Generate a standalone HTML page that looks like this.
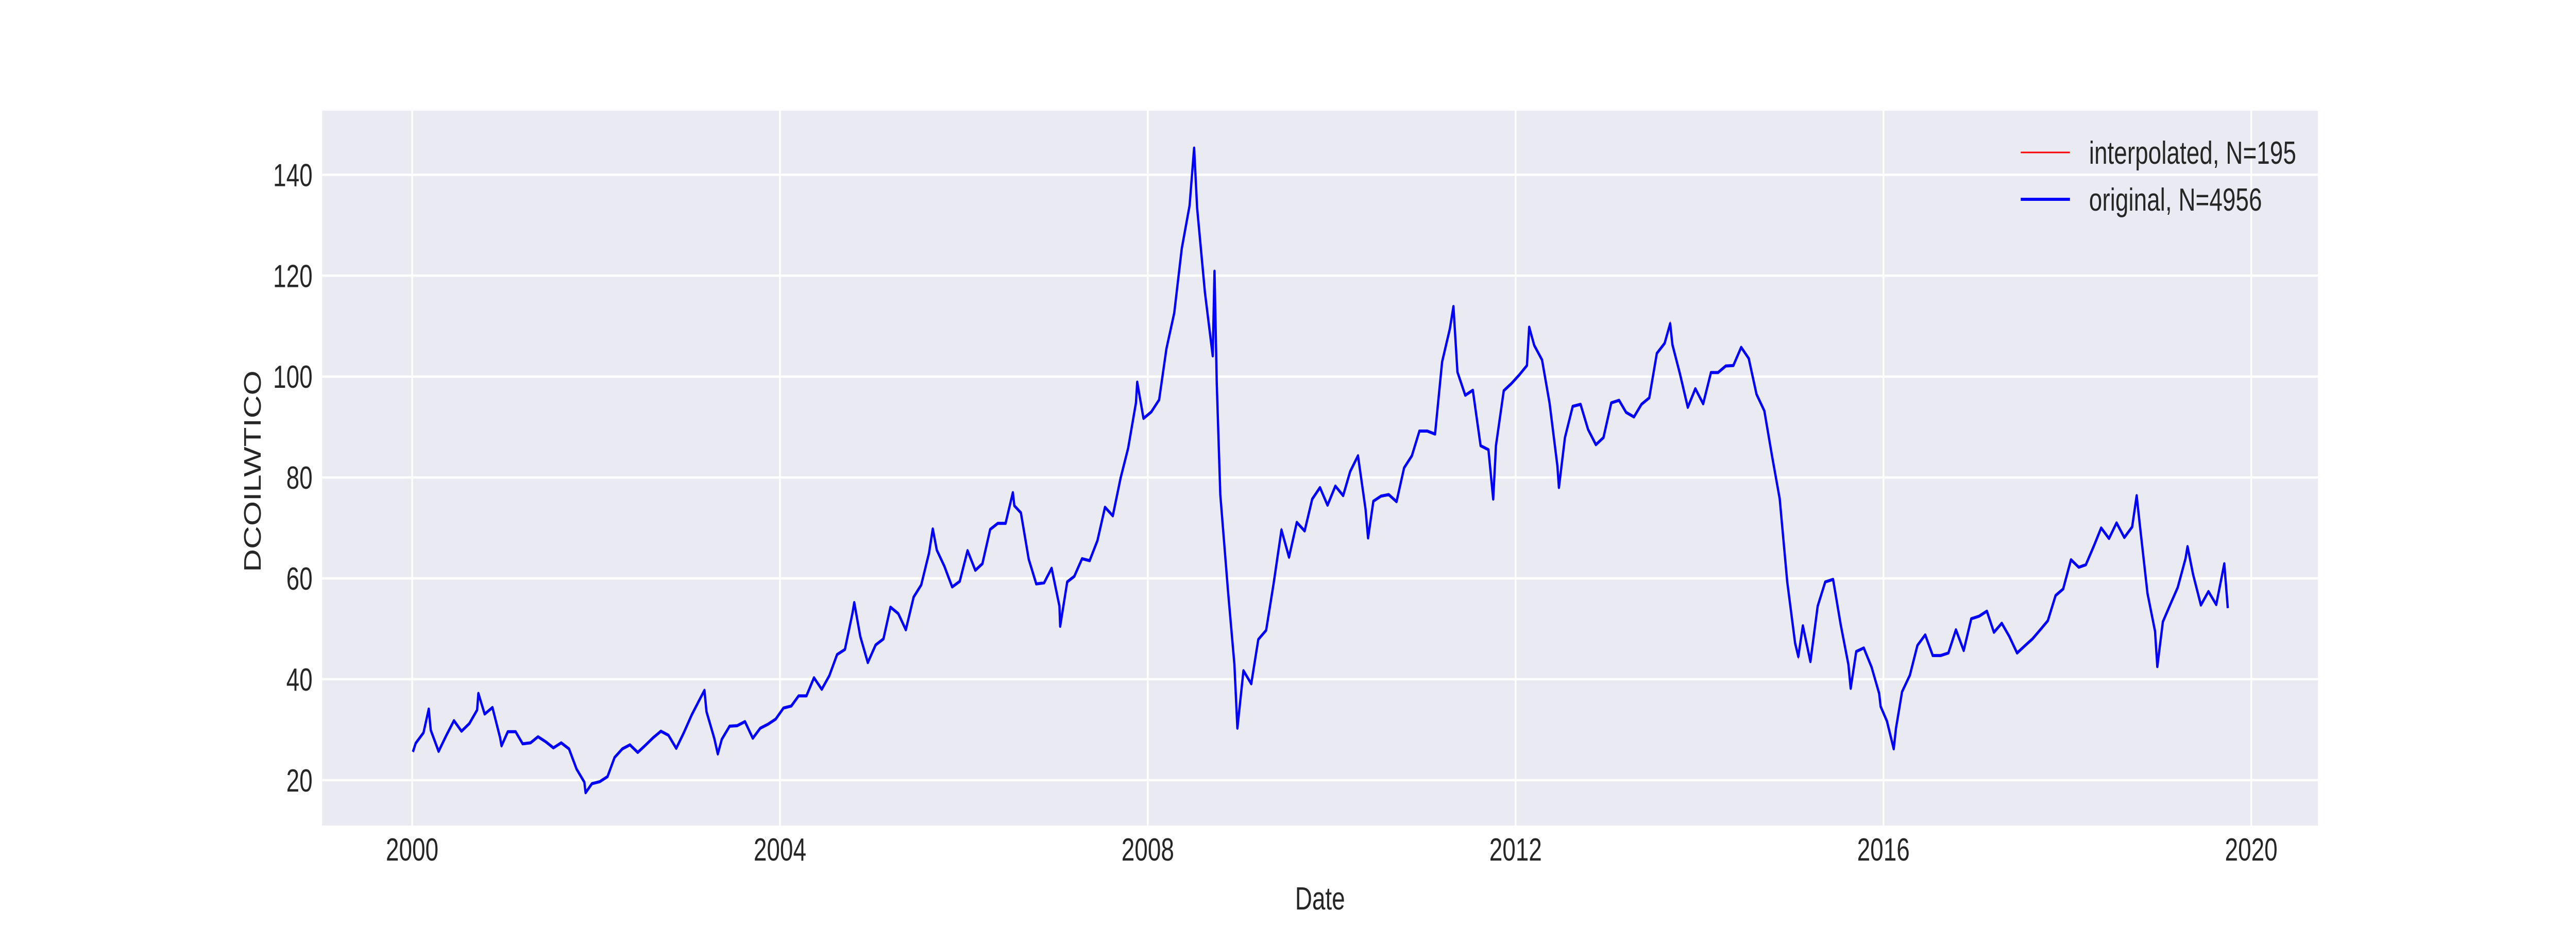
<!DOCTYPE html>
<html><head><meta charset="utf-8">
<style>
html,body{margin:0;padding:0;background:#fff;overflow:hidden;width:100%;height:100%;}
svg{display:block;width:100vw;height:100vh;font-family:"Liberation Sans",Arial,sans-serif;}
</style></head>
<body>
<svg id="chart" viewBox="0 0 6750 1800" preserveAspectRatio="none" xmlns="http://www.w3.org/2000/svg">
<rect x="0" y="0" width="6750" height="1800" fill="#ffffff"/>
<rect x="844" y="215" width="5230" height="1388" fill="#EAEAF2"/>
<g id="grid"></g>
<g id="ticks"></g>
<g id="series"></g>
<text x="3459" y="1766" font-size="62" fill="#262626" text-anchor="middle">Date</text>
<text transform="translate(683,915) rotate(-90)" font-size="62" fill="#262626" text-anchor="middle">DCOILWTICO</text>
<g>
  <line x1="5295" y1="296" x2="5424" y2="296" stroke="#ff0000" stroke-width="3"/>
  <text x="5474" y="318" font-size="62" fill="#262626">interpolated, N=195</text>
  <line x1="5295" y1="387" x2="5424" y2="387" stroke="#0000ff" stroke-width="6"/>
  <text x="5474" y="409" font-size="62" fill="#262626">original, N=4956</text>
</g>
</svg>
<script>
const xTickLabels = ["2000","2004","2008","2012","2016","2020"];
const yTickValues = [20,40,60,80,100,120,140];
const dates = [
"2000-01-04","2000-01-15","2000-02-15","2000-03-07","2000-03-15","2000-04-15","2000-05-15","2000-06-15","2000-07-15","2000-08-15","2000-09-15","2000-09-20","2000-10-15","2000-11-15","2000-12-15","2000-12-21",
"2001-01-15","2001-02-15","2001-03-15","2001-04-15","2001-05-15","2001-06-15","2001-07-15","2001-08-15","2001-09-15","2001-10-15","2001-11-15","2001-11-20","2001-12-15",
"2002-01-15","2002-02-15","2002-03-15","2002-04-15","2002-05-15","2002-06-15","2002-07-15","2002-08-15","2002-09-15","2002-10-15","2002-11-15","2002-12-15",
"2003-01-15","2003-02-15","2003-03-07","2003-03-15","2003-04-15","2003-04-29","2003-05-15","2003-06-15","2003-07-15","2003-08-15","2003-09-15","2003-10-15","2003-11-15","2003-12-15",
"2004-01-15","2004-02-15","2004-03-15","2004-04-15","2004-05-15","2004-06-15","2004-07-15","2004-08-15","2004-09-15","2004-10-15","2004-10-22","2004-11-15","2004-12-15",
"2005-01-15","2005-02-15","2005-03-15","2005-04-15","2005-05-15","2005-06-15","2005-07-15","2005-08-15","2005-08-30","2005-09-15","2005-10-15","2005-11-15","2005-12-15",
"2006-01-15","2006-02-15","2006-03-15","2006-04-15","2006-05-15","2006-06-15","2006-07-14","2006-07-20","2006-08-15","2006-09-15","2006-10-15","2006-11-15","2006-12-15",
"2007-01-15","2007-01-18","2007-02-15","2007-03-15","2007-04-15","2007-05-15","2007-06-15","2007-07-15","2007-08-15","2007-09-15","2007-10-15","2007-11-15","2007-11-20","2007-12-15",
"2008-01-15","2008-02-15","2008-03-15","2008-04-15","2008-05-15","2008-06-15","2008-07-03","2008-07-15","2008-08-15","2008-09-15","2008-09-22","2008-10-01","2008-10-15","2008-11-15","2008-12-10","2008-12-22",
"2009-01-15","2009-02-15","2009-03-15","2009-04-15","2009-05-15","2009-06-15","2009-07-15","2009-08-15","2009-09-15","2009-10-15","2009-11-15","2009-12-15",
"2010-01-15","2010-02-15","2010-03-15","2010-04-15","2010-05-15","2010-05-25","2010-06-15","2010-07-15","2010-08-15","2010-09-15","2010-10-15","2010-11-15","2010-12-15",
"2011-01-15","2011-02-15","2011-03-15","2011-04-15","2011-04-29","2011-05-15","2011-06-15","2011-07-15","2011-08-15","2011-09-15","2011-10-04","2011-10-15","2011-11-15","2011-12-15",
"2012-01-15","2012-02-15","2012-02-24","2012-03-15","2012-04-15","2012-05-15","2012-06-15","2012-06-21","2012-07-15","2012-08-15","2012-09-15","2012-10-15","2012-11-15","2012-12-15",
"2013-01-15","2013-02-15","2013-03-15","2013-04-15","2013-05-15","2013-06-15","2013-07-15","2013-08-15","2013-09-06","2013-09-15","2013-10-15","2013-11-15","2013-12-15",
"2014-01-15","2014-02-15","2014-03-15","2014-04-15","2014-05-15","2014-06-15","2014-07-15","2014-08-15","2014-09-15","2014-10-15","2014-11-15","2014-12-15",
"2015-01-15","2015-01-28","2015-02-15","2015-03-17","2015-04-15","2015-05-15","2015-06-15","2015-07-15","2015-08-15","2015-08-24","2015-09-15","2015-10-15","2015-11-15","2015-12-15","2015-12-21",
"2016-01-15","2016-02-11","2016-02-20","2016-03-15","2016-04-15","2016-05-15","2016-06-15","2016-07-15","2016-08-15","2016-09-15","2016-10-15","2016-11-15","2016-12-15",
"2017-01-15","2017-02-15","2017-03-15","2017-04-15","2017-05-15","2017-06-15","2017-07-15","2017-08-15","2017-09-15","2017-10-15","2017-11-15","2017-12-15",
"2018-01-15","2018-02-15","2018-03-15","2018-04-15","2018-05-15","2018-06-15","2018-07-15","2018-08-15","2018-09-15","2018-10-03","2018-10-15","2018-11-15","2018-12-15","2018-12-24",
"2019-01-15","2019-02-15","2019-03-15","2019-04-15","2019-04-23","2019-05-15","2019-06-15","2019-07-15","2019-08-15","2019-09-16","2019-09-30"
];
const values = [
25.6,27.3,29.4,34.1,29.9,25.7,28.8,31.8,29.7,31.2,33.9,37.2,33.1,34.4,28.5,26.8,
29.6,29.6,27.2,27.4,28.6,27.6,26.4,27.4,26.2,22.2,19.6,17.5,19.3,
19.7,20.7,24.5,26.2,27.0,25.5,26.9,28.4,29.7,28.9,26.3,29.4,
32.9,35.9,37.8,33.6,28.3,25.2,28.1,30.7,30.8,31.6,28.3,30.3,31.1,32.1,
34.3,34.7,36.7,36.7,40.3,38.0,40.7,44.9,45.9,53.1,55.2,48.5,43.3,
46.8,48.0,54.3,53.0,49.8,56.3,58.7,65.0,69.8,65.6,62.4,58.3,59.4,
65.5,61.6,62.9,69.7,70.9,70.9,77.0,74.4,73.0,63.8,58.9,59.1,62.0,
54.5,50.5,59.3,60.4,63.9,63.5,67.5,74.1,72.4,79.9,85.8,94.8,98.9,91.7,
93.0,95.4,105.5,112.6,125.4,133.9,145.3,133.4,116.7,104.1,120.9,98.5,76.6,57.3,43.0,30.3,
41.7,39.1,47.9,49.7,59.0,69.6,64.2,71.1,69.4,75.7,78.0,74.5,
78.3,76.4,81.2,84.3,73.7,68.0,75.3,76.3,76.6,75.2,81.9,84.3,89.2,
89.2,88.6,102.9,109.5,113.9,100.9,96.3,97.3,86.3,85.5,75.7,86.3,97.2,98.6,
100.3,102.2,109.8,106.2,103.3,94.7,82.3,78.0,87.9,94.1,94.5,89.5,86.5,87.9,
94.8,95.3,92.9,92.0,94.5,95.8,104.6,106.6,110.5,106.3,100.5,93.9,97.6,
94.6,100.8,100.8,102.1,102.2,105.8,103.6,96.5,93.2,84.4,75.8,59.3,
47.2,44.5,50.6,43.5,54.5,59.3,59.8,50.9,42.9,38.2,45.5,46.2,42.4,37.2,34.6,
31.7,26.2,30.3,37.5,40.8,46.7,48.8,44.7,44.7,45.2,49.8,45.7,52.0,
52.5,53.5,49.3,51.1,48.5,45.2,46.6,48.0,49.8,51.6,56.6,57.9,
63.7,62.2,62.7,66.3,70.0,67.9,71.0,68.1,70.2,76.4,70.8,57.0,49.5,42.5,
51.4,55.0,58.2,63.9,66.3,60.8,54.7,57.4,54.8,62.9,54.1
];
const NS = "http://www.w3.org/2000/svg";
const PX0 = 844, PX1 = 6074, PY0 = 215, PY1 = 1603;
const T2000 = Date.UTC(2000,0,1), T2020 = Date.UTC(2020,0,1);
const X2000 = 1080, X2020 = 5899;
const YMIN = 11.0, YMAX = 152.7;
function xOf(t){ return X2000 + (t - T2000) / (T2020 - T2000) * (X2020 - X2000); }
function yOf(v){ return PY1 - (v - YMIN) / (YMAX - YMIN) * (PY1 - PY0); }
function parseDate(s){ const p = s.split("-").map(Number); return Date.UTC(p[0], p[1]-1, p[2]); }
const grid = document.getElementById("grid");
const ticks = document.getElementById("ticks");
const series = document.getElementById("series");
for (const lab of xTickLabels) {
  const x = xOf(Date.UTC(Number(lab),0,1));
  const l = document.createElementNS(NS, "line");
  l.setAttribute("x1", x); l.setAttribute("x2", x); l.setAttribute("y1", PY0); l.setAttribute("y2", PY1);
  l.setAttribute("stroke", "#ffffff"); l.setAttribute("stroke-width", "4.5");
  
  
  grid.appendChild(l);
  const t = document.createElementNS(NS, "text");
  t.setAttribute("x", x); t.setAttribute("y", 1671); t.setAttribute("font-size", "62");
  t.setAttribute("fill", "#262626"); t.setAttribute("text-anchor", "middle");
  t.textContent = lab;
  
  
  ticks.appendChild(t);
}
for (const v of yTickValues) {
  const y = yOf(v);
  const l = document.createElementNS(NS, "line");
  l.setAttribute("x1", PX0); l.setAttribute("x2", PX1); l.setAttribute("y1", y); l.setAttribute("y2", y);
  l.setAttribute("stroke", "#ffffff"); l.setAttribute("stroke-width", "4.5");
  
  
  grid.appendChild(l);
  const t = document.createElementNS(NS, "text");
  t.setAttribute("x", 819); t.setAttribute("y", y + 22); t.setAttribute("font-size", "62");
  t.setAttribute("fill", "#262626"); t.setAttribute("text-anchor", "end");
  t.textContent = String(v);
  
  
  ticks.appendChild(t);
}
let pts = [];
for (let i = 0; i < dates.length && i < values.length; i++) {
  pts.push(xOf(parseDate(dates[i])).toFixed(1) + "," + yOf(values[i]).toFixed(1));
}
const red = document.createElementNS(NS, "polyline");
red.setAttribute("points", pts.join(" "));
red.setAttribute("fill", "none"); red.setAttribute("stroke", "#ff0000"); red.setAttribute("stroke-width", "3");


series.appendChild(red);
const blue = document.createElementNS(NS, "polyline");
blue.setAttribute("points", pts.join(" "));
blue.setAttribute("fill", "none"); blue.setAttribute("stroke", "#0000ff"); blue.setAttribute("stroke-width", "6");
blue.setAttribute("stroke-linejoin", "round");


series.appendChild(blue);
</script>
</body></html>
